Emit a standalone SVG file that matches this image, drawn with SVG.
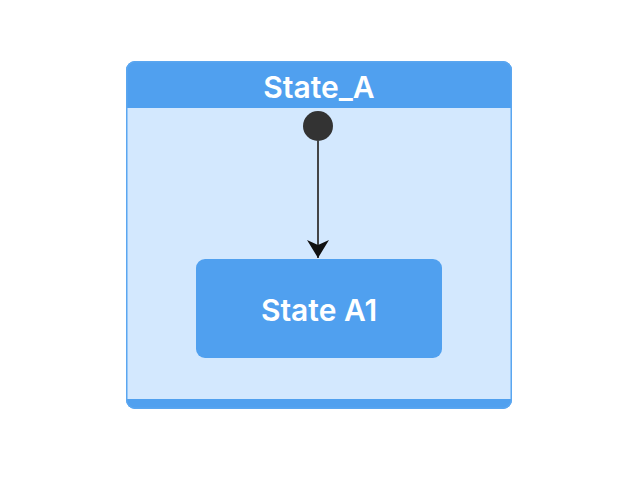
<svg xmlns="http://www.w3.org/2000/svg" width="642" height="480" viewBox="0 0 642 480">
<defs>
<style>
.lbl{font-family:Inter,"Noto Sans","Liberation Sans",sans-serif;font-weight:600;fill:#ffffff;text-anchor:middle;dominant-baseline:central}
</style>
<marker id="arr" markerWidth="20" markerHeight="24" refX="18" refY="11" orient="auto" markerUnits="userSpaceOnUse">
<path d="M0,0 L18,11 L0,22 L5,11 Z" fill="#111"/>
</marker>
<clipPath id="outer"><rect x="126" y="61" width="386" height="348" rx="9"/></clipPath>
</defs>
<rect width="642" height="480" fill="#ffffff"/>
<g id="State_A">
<g clip-path="url(#outer)">
<rect x="126" y="61" width="386" height="348" fill="#d3e8fe"/>
<rect x="126" y="61" width="386" height="47" fill="#50a0ef"/>
<rect x="126" y="399" width="386" height="10" fill="#50a0ef"/>
</g>
<rect x="126.75" y="61.75" width="384.5" height="346.5" rx="8.5" fill="none" stroke="#5aa6f0" stroke-width="1.5"/>
<text class="lbl" x="319" y="87" font-size="30">State_A</text>
</g>
<g id="start">
<circle cx="318" cy="126" r="15" fill="#333333"/>
</g>
<g id="State_A1">
<rect x="196" y="259" width="246" height="99" rx="9" fill="#50a0ef"/>
<text class="lbl" x="319" y="310" font-size="30">State A1</text>
</g>
<g id="connectors">
<line x1="318" y1="141" x2="318" y2="258" stroke="#333" stroke-width="1.8" marker-end="url(#arr)"/>
</g>
</svg>
